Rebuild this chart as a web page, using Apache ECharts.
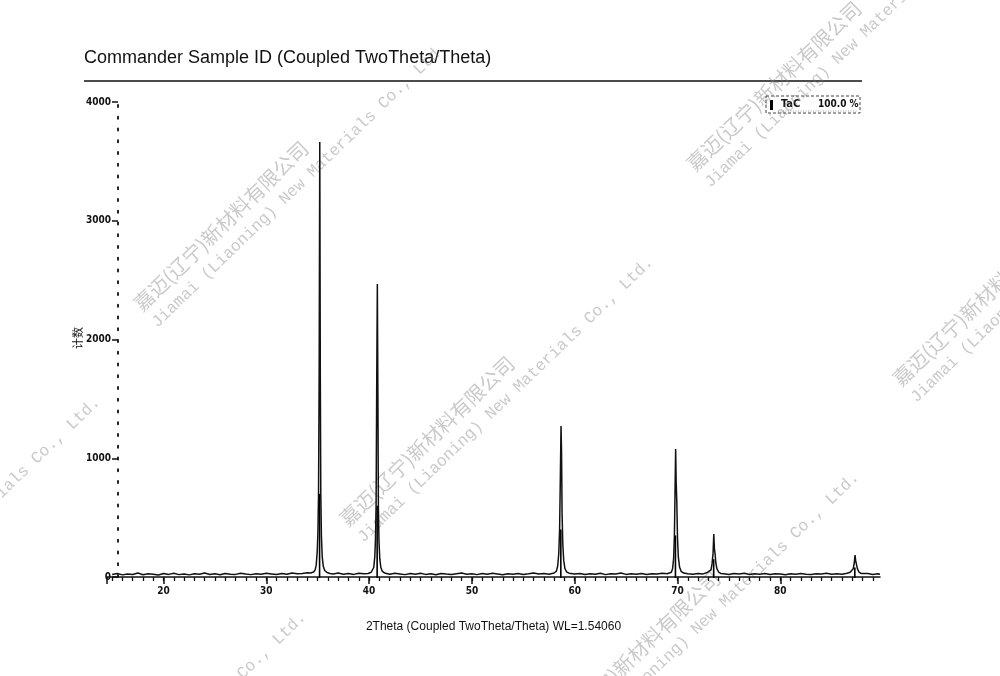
<!DOCTYPE html>
<html>
<head>
<meta charset="utf-8">
<script src="https://cdn.jsdelivr.net/npm/echarts@6/dist/echarts.min.js"></script>
<style>
html,body{margin:0;padding:0;background:#fff;}
#chart{width:1000px;height:676px;}
</style>
</head>
<body>
<div id="chart"></div>
<script>
// ---- Data ----
const twoTheta = [
  15.0,15.5,16.0,16.5,17.0,17.5,18.0,18.5,19.0,19.5,20.0,20.5,21.0,21.5,22.0,22.5,23.0,23.5,24.0,24.5,
  25.0,25.5,26.0,26.5,27.0,27.5,28.0,28.5,29.0,29.5,30.0,30.5,31.0,31.5,32.0,32.5,33.0,33.5,34.0,34.3,
  34.6,34.75,34.85,34.95,35.02,35.08,35.14,35.20,35.25,35.30,35.36,35.44,35.54,35.68,35.9,
  36.2,36.5,37.0,37.5,38.0,38.5,39.0,39.5,39.9,
  40.2,40.35,40.45,40.55,40.62,40.68,40.74,40.80,40.85,40.90,40.96,41.04,41.14,41.28,41.5,
  42.0,42.5,43.0,43.5,44.0,44.5,45.0,45.5,46.0,46.5,47.0,47.5,48.0,48.5,49.0,49.5,50.0,50.5,51.0,
  51.5,52.0,52.5,53.0,53.5,54.0,54.5,55.0,55.5,56.0,56.5,57.0,57.5,58.0,
  58.22,58.35,58.45,58.53,58.60,58.67,58.72,58.77,58.84,58.93,59.05,59.22,59.45,
  60.0,60.5,61.0,61.5,62.0,62.5,63.0,63.5,64.0,64.5,65.0,65.5,66.0,66.5,67.0,67.5,68.0,68.5,69.0,69.4,
  69.52,69.62,69.70,69.76,69.82,69.87,69.93,70.00,70.08,70.2,70.35,70.6,
  71.0,71.5,72.0,72.5,72.9,
  73.26,73.36,73.46,73.53,73.59,73.65,73.73,73.83,74.0,74.2,
  74.5,75.0,75.5,76.0,76.5,77.0,77.5,78.0,78.5,79.0,79.5,80.0,80.5,81.0,81.5,82.0,82.5,83.0,83.5,84.0,
  84.5,85.0,85.5,86.0,86.5,86.8,
  87.10,87.20,87.27,87.33,87.40,87.50,87.65,87.85,
  88.0,88.5,89.0,89.5,89.7
];
const counts = [
  22,30,18,26,21,33,19,27,24,17,29,22,31,20,26,18,28,23,34,21,
  27,19,30,24,22,32,25,20,28,23,31,26,21,29,24,33,27,30,35,33,
  42,60,100,210,380,700,1720,3663,1730,690,340,170,90,55,38,
  30,26,33,24,29,22,31,27,30,
  40,48,80,170,320,620,1640,2467,1600,600,300,150,80,48,34,
  23,31,26,20,29,24,32,22,27,19,30,25,21,28,33,24,27,20,29,
  23,31,25,19,28,24,30,22,27,33,25,29,24,34,
  50,95,200,400,820,1272,1050,540,280,140,70,42,32,
  26,30,22,28,24,31,20,27,25,33,22,28,24,30,21,27,25,31,28,40,
  70,150,350,720,1078,800,640,330,170,85,48,33,
  28,24,30,26,38,
  60,110,200,362,240,200,120,70,42,30,
  27,22,29,25,31,21,27,24,30,22,28,25,19,27,23,30,24,21,28,25,
  31,23,27,24,32,40,
  70,120,185,140,110,70,42,30,
  25,29,22,27,24
];
// TaC reference pattern sticks
const stickPos = [35.18, 40.78, 58.65, 69.80, 73.52, 87.25];
const stickHeight = [700, 600, 400, 350, 150, 80];
// axis tick labels
const xLabelValues = [20, 30, 40, 50, 60, 70, 80];
const xMajorTicks = [14.5, 20, 30, 40, 50, 60, 70, 80];
const yLabelValues = [0, 1000, 2000, 3000, 4000];

const xMinorTicks = [];
for (let v = 15; v <= 89; v++) xMinorTicks.push(v);

const lineData = twoTheta.map((x, i) => [x, counts[i]]);
const stickData = stickPos.map((x, i) => [x, stickHeight[i]]);

const wmCn = '嘉迈(辽宁)新材料有限公司';
const wmEn = 'Jiamai (Liaoning) New Materials Co., Ltd.';
const wmOrigins = [[137,307],[343,522],[690,167],[896,382],[-210,662],[-4,877],[549,737]];
const wmRot = 44 * Math.PI / 180;
const wmGraphics = wmOrigins.map(o => ({
  type: 'group', x: o[0], y: o[1], rotation: wmRot, silent: true, z: 100,
  children: [
    { type: 'text', x: 0, y: 0, style: { text: wmCn, font: '20px "Noto Sans CJK SC"', fill: 'rgba(120,120,120,0.4)', verticalAlign: 'middle', align: 'left' } },
    { type: 'text', x: 0, y: 25, style: { text: wmEn, font: '16.4px "Liberation Mono", "DejaVu Sans Mono", monospace', fill: 'rgba(120,120,120,0.4)', verticalAlign: 'middle', align: 'left' } }
  ]
}));

const tickFont = '"Liberation Sans Narrow", "DejaVu Sans Condensed", "Liberation Sans", sans-serif';

const chart = echarts.init(document.getElementById('chart'), null, { renderer: 'canvas' });
chart.setOption({
  backgroundColor: '#ffffff',
  animation: false,
  grid: { left: 107, right: 120, top: 102, bottom: 99, containLabel: false },
  xAxis: [
    {
      type: 'value', min: 14.5, max: 89.7, position: 'bottom',
      name: '2Theta (Coupled TwoTheta/Theta) WL=1.54060',
      nameLocation: 'middle', nameGap: 44,
      nameTextStyle: { fontFamily: '"Liberation Sans", Arial, sans-serif', fontSize: 12, color: '#111' },
      axisLine: { show: true, onZero: false, lineStyle: { color: '#111', width: 1.6 } },
      axisTick: { show: true, inside: false, length: 4, customValues: xMinorTicks, lineStyle: { color: '#111', width: 1.3 } },
      axisLabel: { show: true, customValues: xLabelValues, margin: 9, fontSize: 10, fontWeight: 'bold', fontFamily: tickFont, color: '#111' },
      splitLine: { show: false }
    },
    {
      type: 'value', min: 14.5, max: 89.7, position: 'bottom',
      axisLine: { show: false, onZero: false },
      axisTick: { show: true, inside: false, length: 7, customValues: xMajorTicks, lineStyle: { color: '#111', width: 1.5 } },
      axisLabel: { show: false },
      splitLine: { show: false }
    }
  ],
  yAxis: {
    type: 'value', min: 0, max: 4000, interval: 1000, offset: -11,
    axisLine: { show: true, onZero: false, lineStyle: { color: '#222', width: 2, type: [2, 9.75] } },
    axisTick: { show: true, inside: false, length: 6, lineStyle: { color: '#111', width: 1.5 } },
    axisLabel: {
      show: true, margin: 7, fontSize: 10, fontWeight: 'bold', fontFamily: tickFont, color: '#111',
      customValues: yLabelValues, formatter: function (v) { return String(v); }
    },
    splitLine: { show: false }
  },
  series: [
    {
      type: 'line', name: 'scan', data: lineData, xAxisIndex: 0, yAxisIndex: 0,
      showSymbol: false, symbol: 'none', smooth: false,
      lineStyle: { color: '#111', width: 1.5 }, z: 3
    },
    {
      type: 'custom', name: 'TaC', data: stickData, xAxisIndex: 0, yAxisIndex: 0, z: 4,
      renderItem: function (params, api) {
        const p0 = api.coord([api.value(0), 0]);
        const p1 = api.coord([api.value(0), api.value(1)]);
        return { type: 'line', shape: { x1: p0[0], y1: p0[1] + 1, x2: p1[0], y2: p1[1] }, style: { stroke: '#000', lineWidth: 1.6 } };
      }
    }
  ],
  graphic: [
    { type: 'text', left: 84, top: 49, style: { text: 'Commander Sample ID (Coupled TwoTheta/Theta)', font: '18px "Liberation Sans", Arial, sans-serif', fill: '#111' } },
    { type: 'line', shape: { x1: 84, y1: 81, x2: 862, y2: 81 }, style: { stroke: '#111', lineWidth: 1.5 } },
    { type: 'text', x: 78, y: 338, rotation: Math.PI / 2, style: { text: '计数', font: '11px "Noto Sans CJK SC", sans-serif', fill: '#111', align: 'center', verticalAlign: 'middle' } },
    { type: 'rect', shape: { x: 766, y: 96, width: 94, height: 17 }, style: { fill: '#fff', stroke: '#444', lineWidth: 1, lineDash: [3, 2] } },
    { type: 'rect', shape: { x: 770, y: 100, width: 3, height: 10 }, style: { fill: '#000' } },
    { type: 'text', x: 781, y: 104, style: { text: 'TaC', font: 'bold 11px ' + tickFont, fill: '#111', verticalAlign: 'middle' } },
    { type: 'text', x: 818, y: 104, style: { text: '100.0 %', font: 'bold 10px ' + tickFont, fill: '#111', verticalAlign: 'middle' } },
    { type: 'line', shape: { x1: 778, y1: 111, x2: 857, y2: 111 }, style: { stroke: '#888', lineWidth: 0.8, lineDash: [1, 1.5] } }
  ].concat(wmGraphics)
});
</script>
</body>
</html>
